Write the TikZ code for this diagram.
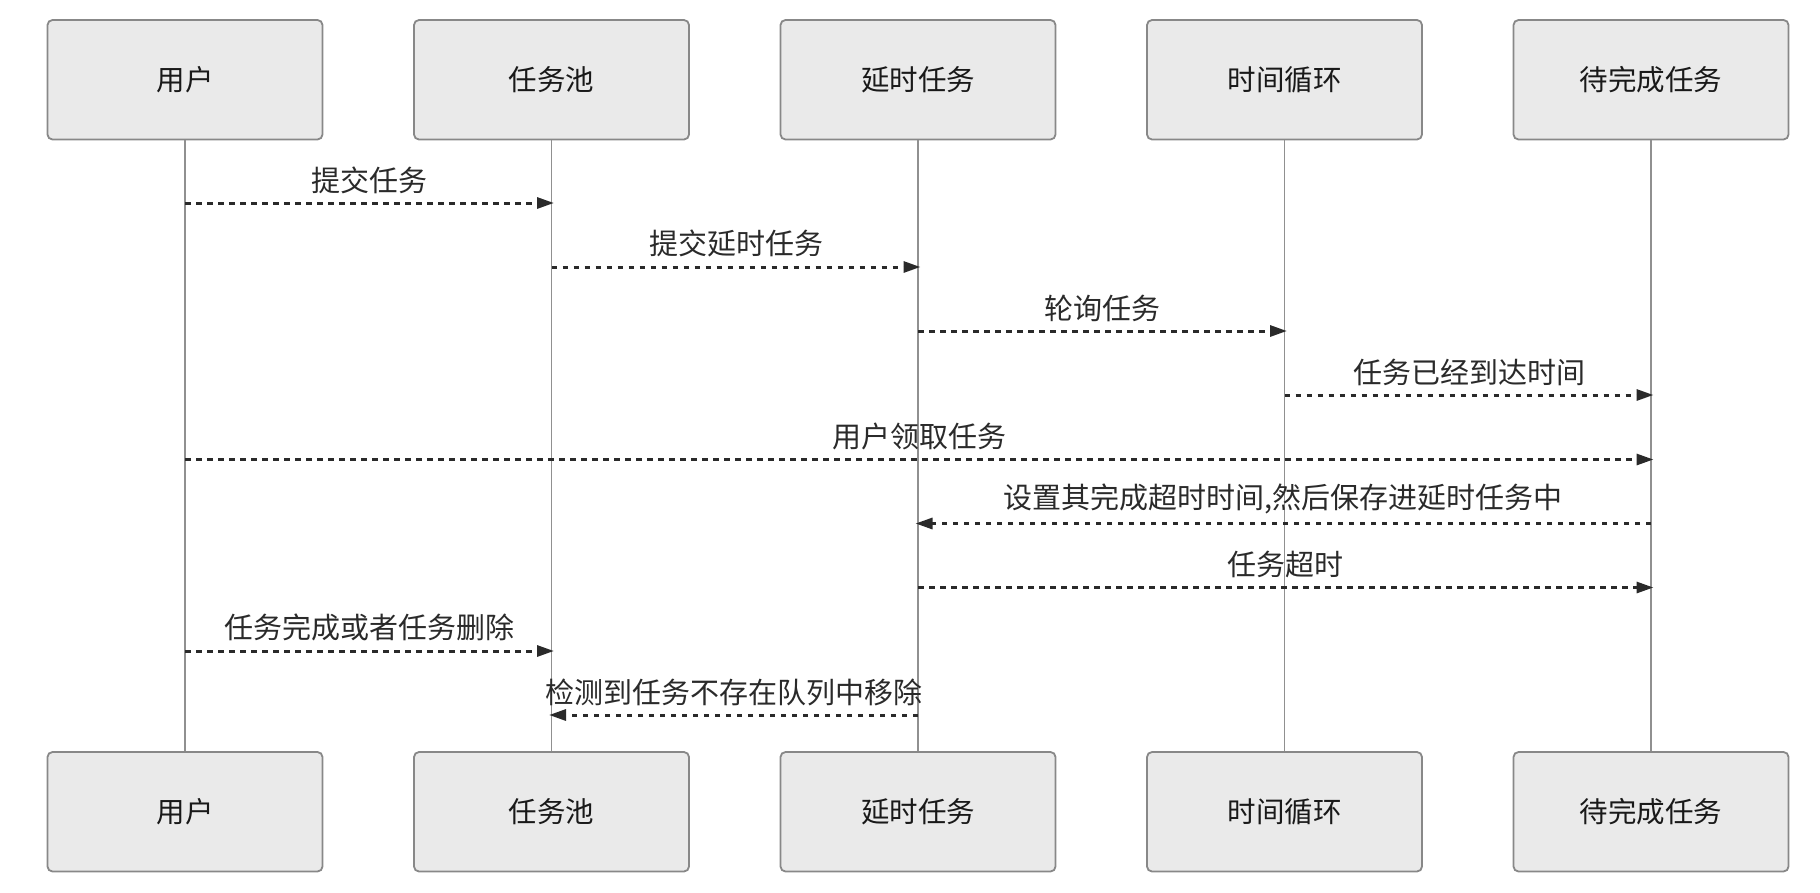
\documentclass[tikz,border=0pt]{standalone}
\usepackage{fontspec}
\setmainfont{Noto Sans CJK SC}
\usetikzlibrary{arrows.meta}
\definecolor{boxfill}{HTML}{EAEAEA}
\definecolor{boxline}{HTML}{888888}
\definecolor{lifeline}{HTML}{909090}
\definecolor{msg}{HTML}{2A2A2A}
\begin{document}
\begin{tikzpicture}[x=1pt,y=-1pt,
  actor/.style={draw=boxline,line width=1.8pt,fill=boxfill,rounded corners=5pt,
    minimum width=275pt,minimum height=119.5pt,inner sep=0pt,
    font=\fontsize{28.5}{32}\selectfont,text=black!90},
  life/.style={draw=lifeline,line width=1.3pt},
  message/.style={draw=msg,line width=3pt,dash pattern=on 5.5pt off 5.5pt,
    -{Triangle[length=17pt,width=11pt]}},
  mlabel/.style={font=\fontsize{29}{33}\selectfont,text=msg,inner sep=0pt}]
\useasboundingbox (0,0) rectangle (1820,892);
% top actors
\node[actor] (t1) at (185,79.75) {用户};
\node[actor] (t2) at (551.5,79.75) {任务池};
\node[actor] (t3) at (918,79.75) {延时任务};
\node[actor] (t4) at (1284.5,79.75) {时间循环};
\node[actor] (t5) at (1651,79.75) {待完成任务};
% bottom actors
\node[actor] (b1) at (185,811.75) {用户};
\node[actor] (b2) at (551.5,811.75) {任务池};
\node[actor] (b3) at (918,811.75) {延时任务};
\node[actor] (b4) at (1284.5,811.75) {时间循环};
\node[actor] (b5) at (1651,811.75) {待完成任务};
% lifelines
\foreach \i in {1,...,5} \draw[life] (t\i.south) -- (b\i.north);
% message coordinates
\coordinate (m1a) at (185,203);   \coordinate (m1b) at (554,203);
\coordinate (m2a) at (551.5,267); \coordinate (m2b) at (920.5,267);
\coordinate (m3a) at (918,331);   \coordinate (m3b) at (1287,331);
\coordinate (m4a) at (1284.5,395);\coordinate (m4b) at (1653.5,395);
\coordinate (m5a) at (185,459.5); \coordinate (m5b) at (1653.5,459.5);
\coordinate (m6a) at (1651,523.5);\coordinate (m6b) at (915.5,523.5);
\coordinate (m7a) at (918,587.5); \coordinate (m7b) at (1653.5,587.5);
\coordinate (m8a) at (185,651);   \coordinate (m8b) at (554,651);
\coordinate (m9a) at (918,715);   \coordinate (m9b) at (549,715);
% messages
\draw[message] (m1a) -- node[mlabel,above=8pt] {提交任务} (m1b);
\draw[message] (m2a) -- node[mlabel,above=8pt] {提交延时任务} (m2b);
\draw[message] (m3a) -- node[mlabel,above=8pt] {轮询任务} (m3b);
\draw[message] (m4a) -- node[mlabel,above=8pt] {任务已经到达时间} (m4b);
\draw[message] (m5a) -- node[mlabel,above=8pt] {用户领取任务} (m5b);
\draw[message] (m6a) -- node[mlabel,above=8pt] {设置其完成超时时间,然后保存进延时任务中} (m6b);
\draw[message] (m7a) -- node[mlabel,above=8pt] {任务超时} (m7b);
\draw[message] (m8a) -- node[mlabel,above=8pt] {任务完成或者任务删除} (m8b);
\draw[message] (m9a) -- node[mlabel,above=8pt] {检测到任务不存在队列中移除} (m9b);
\end{tikzpicture}
\end{document}
